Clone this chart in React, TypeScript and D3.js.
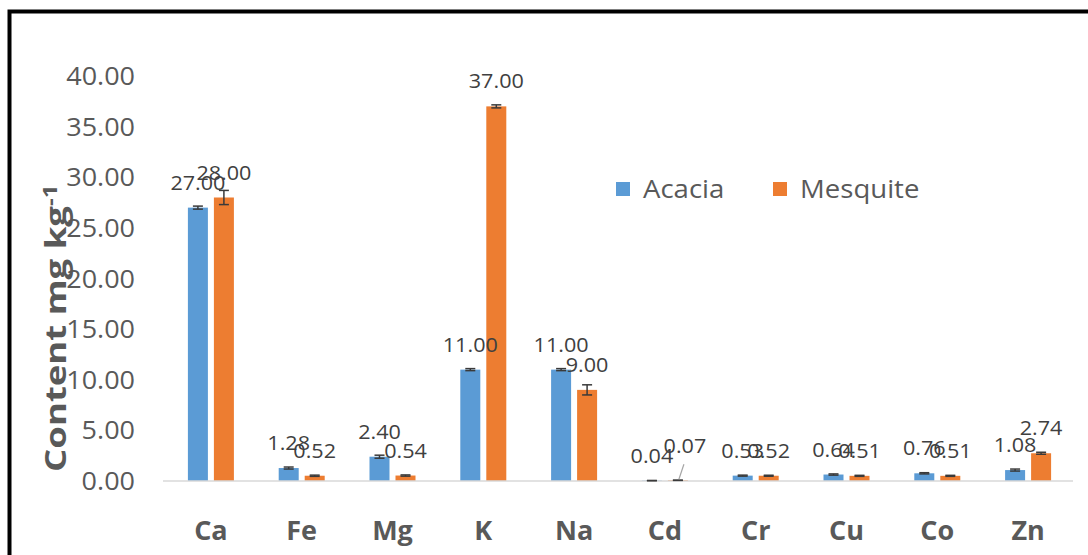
import React from "react";
import * as d3 from "d3";

const categories = ["Ca", "Fe", "Mg", "K", "Na", "Cd", "Cr", "Cu", "Co", "Zn"];
const seriesNames = ["Acacia", "Mesquite"];
const acacia = [27.0, 1.28, 2.4, 11.0, 11.0, 0.04, 0.53, 0.64, 0.76, 1.08];
const mesquite = [28.0, 0.52, 0.54, 37.0, 9.0, 0.07, 0.52, 0.51, 0.51, 2.74];
const acaciaErr = [0.15, 0.1, 0.15, 0.1, 0.1, 0.01, 0.05, 0.06, 0.06, 0.1];
const mesquiteErr = [0.7, 0.06, 0.06, 0.15, 0.5, 0.01, 0.05, 0.05, 0.05, 0.1];
const yTicks = [0, 5, 10, 15, 20, 25, 30, 35, 40];
const colors = ["#5B9BD5", "#ED7D31"];

const W = 1088;
const H = 555;
const FONT = "'Open Sans', 'Noto Sans', sans-serif";

export default function App() {
  const x0 = d3.scaleBand<string>().domain(categories).range([165.5, 1073.5]).padding(0);
  const x1 = d3
    .scaleBand<string>()
    .domain(seriesNames)
    .range([0, 46])
    .paddingInner(0.2308)
    .paddingOuter(0);
  const y = d3.scaleLinear().domain([0, 40]).range([481, 76]);
  const groupOffset = (x0.bandwidth() - 46) / 2;
  const values = [acacia, mesquite];
  const errs = [acaciaErr, mesquiteErr];
  const bw = x1.bandwidth();

  const labelShift = (s: number, i: number) => {
    if (s === 1 && categories[i] === "Cd") return { dx: 7, dy: -9, leader: true };
    return { dx: 0, dy: 0, leader: false };
  };

  return (
    <div style={{ position: "fixed", left: 0, top: 0, width: W, height: H, background: "#fff" }}>
      <svg width={W} height={H} style={{ display: "block" }}>
        <rect x={0} y={0} width={W} height={H} fill="#fff" />
        {/* frame */}
        <rect x={9.5} y={11.5} width={W + 20} height={H + 20} fill="none" stroke="#000" strokeWidth={4} />

        {/* y tick labels */}
        {yTicks.map((t) => (
          <text
            key={t}
            transform={`translate(135,${y(t)}) scale(1.08,1)`}
            dy="0.36em"
            textAnchor="end"
            fontFamily={FONT}
            fontSize={25}
            fill="#595959"
          >
            {d3.format(".2f")(t)}
          </text>
        ))}

        {/* bars */}
        {categories.map((c, i) => (
          <g key={c} transform={`translate(${(x0(c) as number) + groupOffset},0)`}>
            {seriesNames.map((s, si) => {
              const v = values[si][i];
              const bx = x1(s) as number;
              return (
                <rect
                  key={s}
                  x={bx}
                  y={y(v)}
                  width={bw}
                  height={y(0) - y(v)}
                  fill={colors[si]}
                />
              );
            })}
          </g>
        ))}

        {/* x axis line */}
        <line x1={163} x2={1073} y1={y(0)} y2={y(0)} stroke="#D9D9D9" strokeWidth={1.5} />

        {/* error bars */}
        {categories.map((c, i) => (
          <g key={c} transform={`translate(${(x0(c) as number) + groupOffset},0)`}>
            {seriesNames.map((s, si) => {
              const v = values[si][i];
              const e = errs[si][i];
              const cx = (x1(s) as number) + bw / 2;
              return (
                <g key={s} stroke="#3a3a3a" strokeWidth={1.5}>
                  <line x1={cx} x2={cx} y1={y(v - e)} y2={y(v + e)} />
                  <line x1={cx - 5} x2={cx + 5} y1={y(v + e)} y2={y(v + e)} />
                  <line x1={cx - 5} x2={cx + 5} y1={y(v - e)} y2={y(v - e)} />
                </g>
              );
            })}
          </g>
        ))}

        {/* data labels */}
        {categories.map((c, i) => (
          <g key={c} transform={`translate(${(x0(c) as number) + groupOffset},0)`}>
            {seriesNames.map((s, si) => {
              const v = values[si][i];
              const cx = (x1(s) as number) + bw / 2;
              const sh = labelShift(si, i);
              return (
                <g key={s}>
                  {sh.leader && (
                    <line
                      x1={cx + 1}
                      y1={y(v) - 1}
                      x2={cx + 6}
                      y2={y(v) - 16}
                      stroke="#A6A6A6"
                      strokeWidth={1.2}
                    />
                  )}
                  <text
                    transform={`translate(${cx + sh.dx},${y(v) - 18 + sh.dy}) scale(1.08,1)`}
                    textAnchor="middle"
                    fontFamily={FONT}
                    fontSize={20}
                    fill="#404040"
                  >
                    {d3.format(".2f")(v)}
                  </text>
                </g>
              );
            })}
          </g>
        ))}

        {/* x category labels */}
        {categories.map((c) => (
          <text
            key={c}
            x={(x0(c) as number) + x0.bandwidth() / 2}
            y={540}
            textAnchor="middle"
            fontFamily={FONT}
            fontWeight="bold"
            fontSize={27}
            fill="#595959"
          >
            {c}
          </text>
        ))}

        {/* y axis title */}
        <text
          transform="translate(66,472) rotate(-90) scale(1.26,1)"
          fontFamily={FONT}
          fontWeight="bold"
          fontSize={29}
          fill="#595959"
        >
          Content mg kg
          <tspan fontSize={19} dy={-9}>-1</tspan>
        </text>

        {/* legend */}
        {seriesNames.map((s, si) => {
          const lx = si === 0 ? 616 : 773;
          return (
            <g key={s}>
              <rect x={lx} y={182} width={14} height={14} fill={colors[si]} />
              <text
                transform={`translate(${lx + 27},198) scale(1.06,1)`}
                fontFamily={FONT}
                fontSize={26}
                fill="#595959"
              >
                {s}
              </text>
            </g>
          );
        })}
      </svg>
    </div>
  );
}
